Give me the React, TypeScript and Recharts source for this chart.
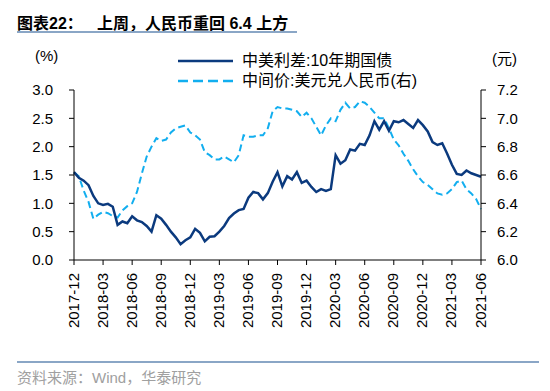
import React from 'react';
import { LineChart, Line, XAxis, YAxis, Legend } from 'recharts';

const dates = [
  '2017-12-01', '2017-12-16',
  '2018-01-01', '2018-01-16', '2018-02-01', '2018-02-16', '2018-03-01', '2018-03-16',
  '2018-04-01', '2018-04-16', '2018-05-01', '2018-05-16', '2018-06-01', '2018-06-16',
  '2018-07-01', '2018-07-16', '2018-08-01', '2018-08-16', '2018-09-01', '2018-09-16',
  '2018-10-01', '2018-10-16', '2018-11-01', '2018-11-16', '2018-12-01', '2018-12-16',
  '2019-01-01', '2019-01-16', '2019-02-01', '2019-02-16', '2019-03-01', '2019-03-16',
  '2019-04-01', '2019-04-16', '2019-05-01', '2019-05-16', '2019-06-01', '2019-06-16',
  '2019-07-01', '2019-07-16', '2019-08-01', '2019-08-16', '2019-09-01', '2019-09-16',
  '2019-10-01', '2019-10-16', '2019-11-01', '2019-11-16', '2019-12-01', '2019-12-16',
  '2020-01-01', '2020-01-16', '2020-02-01', '2020-02-16', '2020-03-01', '2020-03-16',
  '2020-04-01', '2020-04-16', '2020-05-01', '2020-05-16', '2020-06-01', '2020-06-16',
  '2020-07-01', '2020-07-16', '2020-08-01', '2020-08-16', '2020-09-01', '2020-09-16',
  '2020-10-01', '2020-10-16', '2020-11-01', '2020-11-16', '2020-12-01', '2020-12-16',
  '2021-01-01', '2021-01-16', '2021-02-01', '2021-02-16', '2021-03-01', '2021-03-16',
  '2021-04-01', '2021-04-16', '2021-05-01', '2021-05-16', '2021-06-01',
];

// 中美利差:10年期国债 (%)
const spread = [
  1.55, 1.45, 1.40, 1.32, 1.13, 1.00, 0.97, 0.99, 0.94, 0.62,
  0.68, 0.65, 0.77, 0.70, 0.67, 0.60, 0.50, 0.79, 0.73, 0.62,
  0.50, 0.40, 0.28, 0.35, 0.40, 0.55, 0.48, 0.33, 0.41, 0.42,
  0.50, 0.60, 0.74, 0.82, 0.88, 0.90, 1.10, 1.20, 1.18, 1.07,
  1.18, 1.38, 1.55, 1.30, 1.48, 1.42, 1.55, 1.36, 1.40, 1.29,
  1.20, 1.25, 1.22, 1.25, 1.85, 1.70, 1.76, 1.95, 1.93, 2.05,
  2.03, 2.20, 2.45, 2.30, 2.45, 2.28, 2.45, 2.43, 2.47, 2.40,
  2.33, 2.47, 2.38, 2.27, 2.08, 2.03, 2.06, 1.88, 1.68, 1.52,
  1.50, 1.58, 1.53, 1.50, 1.47,
];

// 中间价:美元兑人民币 (元, right axis)
const cny = [
  6.62, 6.59, 6.49, 6.41, 6.29, 6.32, 6.34, 6.33, 6.31, 6.30,
  6.35, 6.38, 6.40, 6.48, 6.61, 6.73, 6.80, 6.86, 6.84, 6.85,
  6.90, 6.93, 6.94, 6.95, 6.90, 6.88, 6.85, 6.76, 6.74, 6.71,
  6.71, 6.73, 6.71, 6.69, 6.74, 6.88, 6.87, 6.87, 6.88, 6.88,
  6.93, 7.05, 7.08, 7.07, 7.07, 7.06, 7.05, 7.01, 7.04, 7.00,
  6.94, 6.88, 6.95, 7.00, 6.98, 7.06, 7.11, 7.07, 7.08, 7.12,
  7.11, 7.08, 7.04, 7.00, 7.00, 6.93, 6.85, 6.81, 6.75, 6.70,
  6.64, 6.59, 6.55, 6.53, 6.50, 6.47, 6.46, 6.47, 6.50, 6.55,
  6.56, 6.50, 6.47, 6.43, 6.36,
];

const xTicks = [
  '2017-12-01', '2018-03-01', '2018-06-01', '2018-09-01', '2018-12-01',
  '2019-03-01', '2019-06-01', '2019-09-01', '2019-12-01', '2020-03-01',
  '2020-06-01', '2020-09-01', '2020-12-01', '2021-03-01', '2021-06-01',
];
const leftTicks = [0, 0.5, 1.0, 1.5, 2.0, 2.5, 3.0];
const rightTicks = [6.0, 6.2, 6.4, 6.6, 6.8, 7.0, 7.2];

const seriesNames = ['中美利差:10年期国债', '中间价:美元兑人民币(右)'];
const titleLead = '图表22：';
const titleText = '上周，人民币重回 6.4 上方';
const sourceText = '资料来源：Wind，华泰研究';

const NAVY = '#0B3A7E';
const LIGHT = '#12AEEF';
const FONT = '"Liberation Sans", Arial, "Noto Sans CJK SC", sans-serif';

const data = dates.map((d, i) => ({ date: d, spread: spread[i], cny: cny[i] }));

const XTick = (props: any) => {
  const { x, y, payload } = props;
  const label = String(payload.value).slice(0, 7);
  const tx = x - 1;
  const ty = y + 8;
  return (
    <text
      x={tx}
      y={ty}
      transform={`rotate(-90, ${tx}, ${ty})`}
      textAnchor="end"
      dominantBaseline="central"
      fontSize={15}
      fontFamily={FONT}
      fill="#000"
    >
      {label}
    </text>
  );
};

const LegendContent = () => (
  <div style={{ position: 'absolute', left: 178, top: 51, fontFamily: FONT, fontSize: 16, color: '#000', lineHeight: '20px' }}>
    <div style={{ display: 'flex', alignItems: 'center', height: 20 }}>
      <svg width={56} height={6}><line x1={0} y1={3} x2={55} y2={3} stroke={NAVY} strokeWidth={2.5} /></svg>
      <span style={{ marginLeft: 8, whiteSpace: 'nowrap' }}>{seriesNames[0]}</span>
    </div>
    <div style={{ display: 'flex', alignItems: 'center', height: 20 }}>
      <svg width={56} height={6}><line x1={0} y1={3} x2={55} y2={3} stroke={LIGHT} strokeWidth={2.5} strokeDasharray="10 5" /></svg>
      <span style={{ marginLeft: 8, whiteSpace: 'nowrap' }}>{seriesNames[1]}</span>
    </div>
  </div>
);

export default function App() {
  return (
    <div style={{ position: 'absolute', left: 0, top: 0, width: 550, height: 391, background: '#fff', overflow: 'hidden' }}>
      <div style={{ position: 'absolute', left: 17, top: 10, fontFamily: FONT, fontWeight: 'bold', fontSize: 16, whiteSpace: 'nowrap', color: '#000' }}>
        {titleLead}
      </div>
      <div style={{ position: 'absolute', left: 97, top: 10, fontFamily: FONT, fontWeight: 'bold', fontSize: 16, whiteSpace: 'nowrap', color: '#000' }}>
        {titleText}
      </div>
      <div style={{ position: 'absolute', left: 17, top: 31, width: 280, height: 2, background: '#8AA6C6' }} />

      <div style={{ position: 'absolute', left: 35, top: 47, fontFamily: FONT, fontSize: 15, color: '#000' }}>(%)</div>
      <div style={{ position: 'absolute', left: 492, top: 47, fontFamily: FONT, fontSize: 15, color: '#000' }}>(元)</div>

      <LineChart width={550} height={391} data={data} margin={{ top: 90, right: 0, bottom: 51, left: 0 }}>
        <XAxis
          dataKey="date"
          ticks={xTicks}
          interval={0}
          height={80}
          tickSize={5}
          tickMargin={0}
          axisLine={{ stroke: '#000' }}
          tickLine={{ stroke: '#000' }}
          tick={<XTick />}
        />
        <YAxis
          yAxisId="left"
          domain={[0, 3]}
          ticks={leftTicks}
          width={74}
          tickSize={5}
          tickMargin={16}
          axisLine={{ stroke: '#000' }}
          tickLine={{ stroke: '#000' }}
          tick={{ fill: '#000', fontSize: 15, fontFamily: FONT }}
          tickFormatter={(v: number) => v.toFixed(1)}
          allowDataOverflow
        />
        <YAxis
          yAxisId="right"
          orientation="right"
          domain={[6, 7.2]}
          ticks={rightTicks}
          width={69}
          tickSize={5}
          tickMargin={11}
          axisLine={{ stroke: '#000' }}
          tickLine={{ stroke: '#000' }}
          tick={{ fill: '#000', fontSize: 15, fontFamily: FONT }}
          tickFormatter={(v: number) => v.toFixed(1)}
          allowDataOverflow
        />
        <Legend content={<LegendContent />} wrapperStyle={{ position: 'absolute', left: 0, top: 0, width: 0, height: 0 }} />
        <Line
          yAxisId="right"
          dataKey="cny"
          name={seriesNames[1]}
          stroke={LIGHT}
          strokeWidth={2}
          strokeDasharray="7 4"
          dot={false}
          isAnimationActive={false}
        />
        <Line
          yAxisId="left"
          dataKey="spread"
          name={seriesNames[0]}
          stroke={NAVY}
          strokeWidth={2.5}
          dot={false}
          isAnimationActive={false}
        />
      </LineChart>

      <div style={{ position: 'absolute', left: 17, top: 361, width: 522, height: 2, background: '#8AA6C6' }} />
      <div style={{ position: 'absolute', left: 17, top: 366, fontFamily: FONT, fontSize: 15, color: '#A0A0A0', whiteSpace: 'nowrap' }}>
        {sourceText}
      </div>
    </div>
  );
}
